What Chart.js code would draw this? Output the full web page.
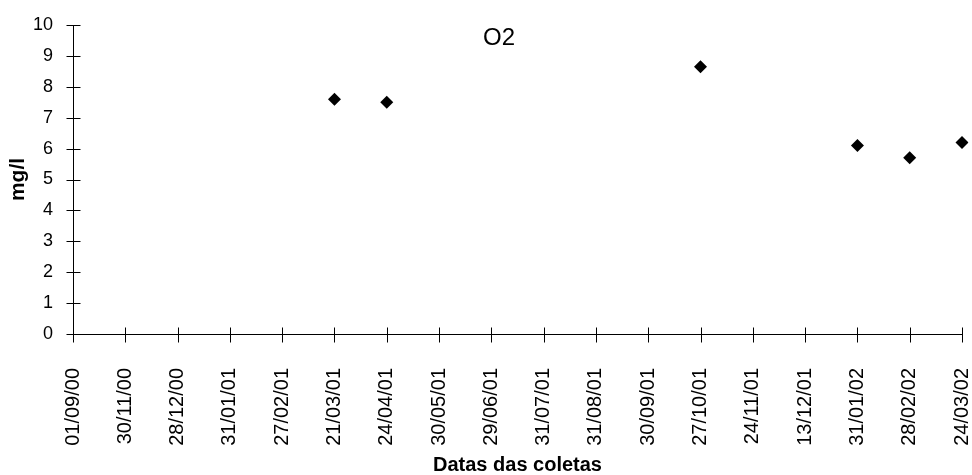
<!DOCTYPE html>
<html>
<head>
<meta charset="utf-8">
<script src="https://cdn.jsdelivr.net/npm/chart.js@4/dist/chart.umd.min.js"></script>
<style>
  html, body { margin: 0; padding: 0; background: #fff; }
  #wrap { width: 972px; height: 475px; }
</style>
</head>
<body>
<div id="wrap"><canvas id="c" width="972" height="475"></canvas></div>
<script>
// Sampling dates (category axis)
const dates = [
  '01/09/00', '30/11/00', '28/12/00', '31/01/01', '27/02/01', '21/03/01',
  '24/04/01', '30/05/01', '29/06/01', '31/07/01', '31/08/01', '30/09/01',
  '27/10/01', '24/11/01', '13/12/01', '31/01/02', '28/02/02', '24/03/02'
];
// Dissolved oxygen (mg/l); null where no sample was measured
const o2Values = [
  null, null, null, null, null, 7.6,
  7.5, null, null, null, null, null,
  8.65, null, null, 6.1, 5.7, 6.2
];
const chartTitle = 'O2';
const yTitle = 'mg/l';
const xTitle = 'Datas das coletas';
const yMin = 0, yMax = 10, yStep = 1;

const FONT = '"Liberation Sans", Arial, sans-serif';

// Cross-shaped tick marks on both axes plus the chart heading
const axisDecor = {
  id: 'axisDecor',
  afterDraw(chart) {
    const { ctx, scales: { x, y }, chartArea } = chart;
    const ax = Math.round(chartArea.left) + 0.5;
    const ay = Math.round(chartArea.bottom) + 0.5;
    ctx.save();
    ctx.strokeStyle = '#000';
    ctx.lineWidth = 1;
    ctx.beginPath();
    // axis lines
    ctx.moveTo(ax, Math.round(chartArea.top));
    ctx.lineTo(ax, ay);
    ctx.lineTo(Math.round(chartArea.right) + 0.5, ay);
    // y ticks
    y.ticks.forEach(t => {
      const py = Math.round(y.getPixelForValue(t.value)) + 0.5;
      ctx.moveTo(ax - 7, py);
      ctx.lineTo(ax + 7, py);
    });
    // x ticks
    dates.forEach((d, i) => {
      const px = Math.round(x.getPixelForValue(i)) + 0.5;
      ctx.moveTo(px, ay - 7);
      ctx.lineTo(px, ay + 8);
    });
    ctx.stroke();
    // heading
    ctx.fillStyle = '#000';
    ctx.font = '24px ' + FONT;
    ctx.textAlign = 'center';
    ctx.textBaseline = 'middle';
    ctx.fillText(chartTitle, 499, 38);
    ctx.restore();
  }
};

new Chart(document.getElementById('c'), {
  type: 'line',
  data: {
    labels: dates,
    datasets: [{
      label: chartTitle,
      data: o2Values,
      showLine: false,
      pointStyle: 'rectRot',
      pointRadius: 6.5,
      pointHoverRadius: 6.5,
      backgroundColor: '#000',
      borderColor: '#000',
      pointBorderWidth: 0
    }]
  },
  options: {
    responsive: false,
    animation: false,
    events: [],
    layout: { padding: { top: 25, right: 10, bottom: 0, left: 0 } },
    plugins: {
      legend: { display: false },
      title: { display: false },
      tooltip: { enabled: false }
    },
    scales: {
      x: {
        type: 'category',
        offset: false,
        grid: { display: false, drawTicks: false },
        border: { display: false },
        ticks: {
          autoSkip: false,
          minRotation: 90,
          maxRotation: 90,
          padding: 34,
          color: '#000',
          font: { family: FONT, size: 20, lineHeight: 1 }
        },
        title: {
          display: true,
          text: xTitle,
          color: '#000',
          font: { family: FONT, size: 20, weight: 'bold', lineHeight: 1 },
          padding: { top: 0, bottom: 0 }
        },
        afterFit(scale) {
          scale.height = 141;
          scale.paddingLeft = 0;
          scale.paddingRight = 0;
        }
      },
      y: {
        min: yMin,
        max: yMax,
        grid: { display: false, drawTicks: false },
        border: { display: false },
        ticks: {
          stepSize: yStep,
          padding: 20,
          color: '#000',
          font: { family: FONT, size: 18, lineHeight: 1 }
        },
        title: {
          display: true,
          text: yTitle,
          color: '#000',
          font: { family: FONT, size: 21, weight: 'bold', lineHeight: 1 },
          padding: { top: 8, bottom: 0 }
        },
        afterFit(scale) {
          scale.width = 73;
          scale.paddingTop = 0;
          scale.paddingBottom = 0;
        }
      }
    }
  },
  plugins: [axisDecor]
});
</script>
</body>
</html>
